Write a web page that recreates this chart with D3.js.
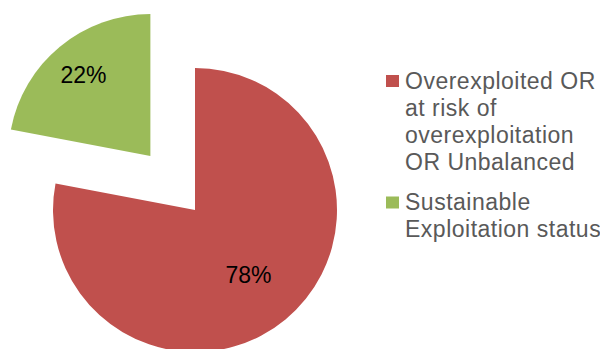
<!DOCTYPE html>
<html>
<head>
<meta charset="utf-8">
<script src="https://cdn.jsdelivr.net/npm/d3@7"></script>
<style>
  body { margin: 0; background: #fff; }
  svg { display: block; font-family: 'Liberation Sans', Arial, sans-serif; }
</style>
</head>
<body>
<svg id="chart" width="600" height="349"></svg>
<script>
const categories = ['Overexploited OR at risk of overexploitation OR Unbalanced', 'Sustainable Exploitation status'];
const values = [78, 22];
const labels = ['78%', '22%'];
const colors = ['#C0504D', '#9BBB59'];
const legendLines = [
  ['Overexploited OR', 'at risk of', 'overexploitation', 'OR Unbalanced'],
  ['Sustainable', 'Exploitation status']
];

const svg = d3.select('#chart');
const cx = 195, cy = 210, r = 142;
const explode = [0, 70];

const pie = d3.pie().sort(null).value(d => d)(values);
const arc = d3.arc().innerRadius(0).outerRadius(r);

const g = svg.append('g').attr('transform', 'translate(' + cx + ',' + cy + ')');

const slices = g.selectAll('g.slice')
  .data(pie)
  .enter()
  .append('g')
  .attr('class', 'slice')
  .attr('transform', (d, i) => {
    const mid = (d.startAngle + d.endAngle) / 2;
    const dx = Math.sin(mid) * explode[i];
    const dy = -Math.cos(mid) * explode[i];
    return 'translate(' + dx + ',' + dy + ')';
  });

slices.append('path')
  .attr('d', arc)
  .style('fill', (d, i) => colors[i]);

// data labels, placed along the mid angle
const labelPos = (d, i) => {
  const mid = (d.startAngle + d.endAngle) / 2;
  const lr = i === 0 ? 0.59 * r : 0.74 * r;
  return [Math.sin(mid) * lr, -Math.cos(mid) * lr];
};

slices.append('text')
  .attr('x', (d, i) => labelPos(d, i)[0])
  .attr('y', (d, i) => labelPos(d, i)[1])
  .attr('text-anchor', 'middle')
  .attr('dy', '0.35em')
  .style('font-size', '23px')
  .style('fill', '#000')
  .text((d, i) => labels[i]);

// legend
const legend = svg.append('g').attr('transform', 'translate(386,0)');
const lineH = 27;
const itemTop = [88.5, 210];

const items = legend.selectAll('g.item')
  .data(categories)
  .enter()
  .append('g')
  .attr('class', 'item');

items.append('rect')
  .attr('x', 0)
  .attr('y', (d, i) => itemTop[i] - 13.5)
  .attr('width', 13)
  .attr('height', 12)
  .style('fill', (d, i) => colors[i]);

items.append('text')
  .attr('x', 19)
  .attr('y', (d, i) => itemTop[i])
  .style('font-size', '23px')
  .style('letter-spacing', '0.5px')
  .style('fill', '#595959')
  .each(function (d, i) {
    d3.select(this)
      .selectAll('tspan')
      .data(legendLines[i])
      .enter()
      .append('tspan')
      .attr('x', 19)
      .attr('dy', (t, j) => (j === 0 ? 0 : lineH))
      .text(t => t);
  });
</script>
</body>
</html>
